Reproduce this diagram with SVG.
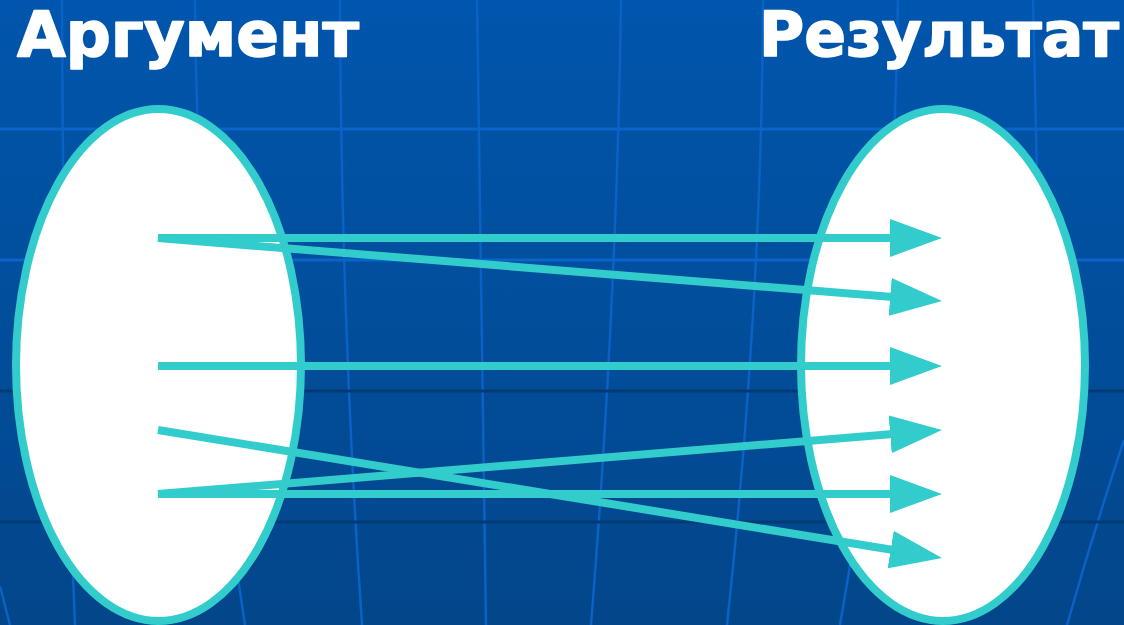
<svg xmlns="http://www.w3.org/2000/svg" width="1124" height="625" viewBox="0 0 1124 625">
  <defs>
    <linearGradient id="bg" x1="0" y1="0" x2="0" y2="1">
      <stop offset="0" stop-color="#0056AD"/>
      <stop offset="1" stop-color="#03468A"/>
    </linearGradient>
    <marker id="arrow" markerUnits="userSpaceOnUse" viewBox="0 0 52 38" markerWidth="52" markerHeight="38" refX="12" refY="19" orient="auto">
      <path d="M0,0 L52,19 L0,38 Z" fill="#33CCCC"/>
    </marker>
    <style>
      .grid { fill: none; stroke: #0A64CA; stroke-width: 3; }
      .gridv { fill: none; stroke: #0A62C6; stroke-width: 2.5; }
      .dark { fill: none; stroke: #023A76; stroke-width: 3; }
      .set { fill: #FFFFFF; stroke: #33CCCC; stroke-width: 8; }
      .edge { fill: none; stroke: #33CCCC; stroke-width: 8; marker-end: url(#arrow); }
      .title { font-family: "DejaVu Sans", Verdana, sans-serif; font-weight: bold; font-size: 62px; fill: #FFFFFF; stroke: #FFFFFF; stroke-width: 1.6; stroke-linejoin: round; }
    </style>
  </defs>

  <g id="background">
    <rect x="0" y="0" width="1124" height="625" fill="url(#bg)"/>
    <path class="gridv" d="M62,0 Q63,350 75,625"/>
    <path class="gridv" d="M195,0 Q197,320 245,625"/>
    <path class="gridv" d="M340,0 Q341,320 362,625"/>
    <path class="gridv" d="M477,0 Q481,320 486,625"/>
    <path class="gridv" d="M621,0 Q617,300 591,625"/>
    <path class="gridv" d="M763,0 Q762,300 727,625"/>
    <path class="gridv" d="M898,0 Q894,320 840,625"/>
    <path class="gridv" d="M1033,0 Q1038,200 1040,380"/>
    <path class="gridv" d="M1124,440 Q1094,530 1067,625"/>
    <path class="gridv" d="M0,586 L10,625"/>
    <line class="grid" x1="0" y1="129" x2="1124" y2="129"/>
    <line class="grid" x1="0" y1="260" x2="1124" y2="260"/>
    <line class="dark" x1="0" y1="391" x2="1124" y2="391"/>
    <line class="dark" x1="0" y1="522" x2="1124" y2="522"/>
  </g>

  <g id="title-argument">
    <text class="title" x="17" y="56" textLength="342" lengthAdjust="spacingAndGlyphs">Аргумент</text>
  </g>
  <g id="title-result">
    <text class="title" x="759" y="56" textLength="360" lengthAdjust="spacingAndGlyphs">Результат</text>
  </g>

  <g id="node-argument">
    <ellipse class="set" cx="158.5" cy="365" rx="142.5" ry="256"/>
  </g>
  <g id="node-result">
    <ellipse class="set" cx="943" cy="365" rx="142" ry="256"/>
  </g>

  <g id="connectors">
    <line class="edge" x1="158" y1="238" x2="902" y2="238"/>
    <line class="edge" x1="158" y1="238" x2="902.12" y2="297.85"/>
    <line class="edge" x1="158" y1="366" x2="902" y2="366"/>
    <line class="edge" x1="158" y1="430" x2="902.52" y2="551.55"/>
    <line class="edge" x1="158" y1="494" x2="902.13" y2="433.25"/>
    <line class="edge" x1="158" y1="494" x2="902" y2="494"/>
  </g>
</svg>
